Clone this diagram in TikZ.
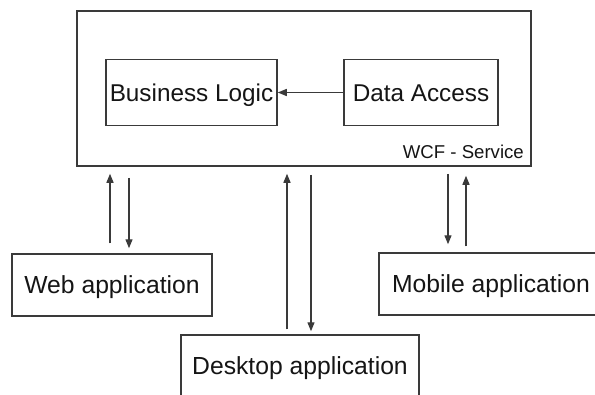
\documentclass[tikz,border=0pt]{standalone}
\usepackage{fontspec}
\setmainfont{Liberation Sans}
\usetikzlibrary{arrows.meta}
\definecolor{ln}{HTML}{3A3A3A}
\definecolor{tx}{HTML}{151515}
\tikzset{
  box/.style={draw=ln, line width=1.5pt, inner sep=0pt, text=tx,
    font=\fontsize{24.3}{28}\selectfont, text height=19pt, text depth=2pt},
  appbox/.style={box, font=\fontsize{24.7}{28}\selectfont},
  arr/.style={draw=ln, line width=1.3pt, -{Triangle[length=9pt,width=7pt]}}
}
\begin{document}
\begin{tikzpicture}[x=1pt,y=-1pt]
\useasboundingbox (0,0) rectangle (595,394);
\fill[white] (0,0) rectangle (595,394);
\clip (0,0) rectangle (595,394);
% WCF service container
\node[draw=ln, line width=1.5pt, minimum width=454, minimum height=155, inner sep=0pt] (wcf) at (304,88.5) {};
\node[anchor=base east, inner sep=0pt, text=tx, font=\fontsize{18.6}{22}\selectfont] (wcflbl) at (524,158) {WCF - Service};
% inner boxes
\node[box, minimum width=171, minimum height=66] (bl) at (191.5,92.5) {Business Logic};
\node[box, minimum width=154, minimum height=66] (da) at (421,92.5) {Data Access};
\draw[arr] (da) -- (bl);
% applications
\node[appbox, minimum width=200, minimum height=62] (web) at (112,285) {Web application};
\node[appbox, minimum width=224, minimum height=62] (mob) at (491,284) {Mobile application};
\node[appbox, minimum width=238, minimum height=62] (desk) at (300,366) {Desktop application};
% x positions of connectors
\coordinate (xw1) at (110,0);
\coordinate (xw2) at (129,0);
\coordinate (xd1) at (287,0);
\coordinate (xd2) at (311,0);
\coordinate (xm1) at (448,0);
\coordinate (xm2) at (466,0);
% web
\draw[arr] ([yshift=10pt]web.north -| xw1) -- ([yshift=-7pt]wcf.south -| xw1);
\draw[arr] ([yshift=-11pt]wcf.south -| xw2) -- ([yshift=5pt]web.north -| xw2);
% desktop
\draw[arr] ([yshift=5pt]desk.north -| xd1) -- ([yshift=-7pt]wcf.south -| xd1);
\draw[arr] ([yshift=-8pt]wcf.south -| xd2) -- ([yshift=3pt]desk.north -| xd2);
% mobile
\draw[arr] ([yshift=-7pt]wcf.south -| xm1) -- ([yshift=8pt]mob.north -| xm1);
\draw[arr] ([yshift=6pt]mob.north -| xm2) -- ([yshift=-9pt]wcf.south -| xm2);
\end{tikzpicture}
\end{document}
